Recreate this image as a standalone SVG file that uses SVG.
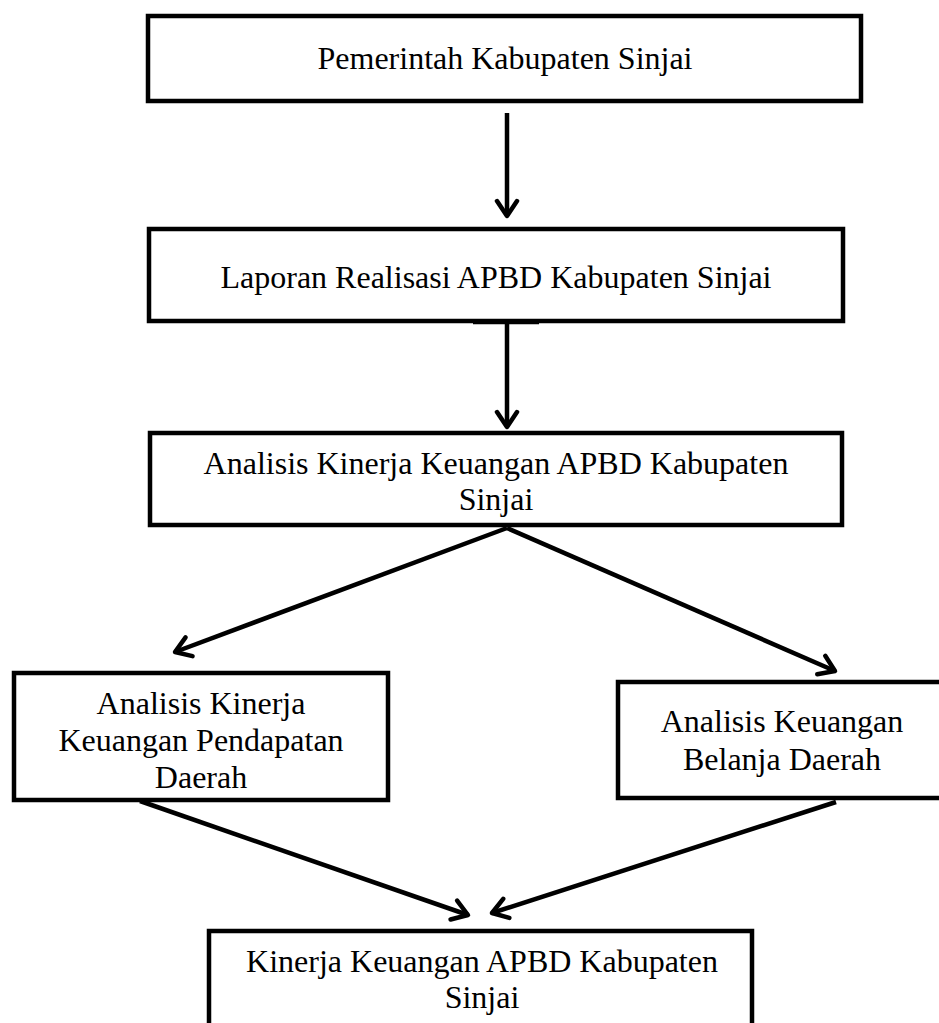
<svg xmlns="http://www.w3.org/2000/svg" width="939" height="1023" viewBox="0 0 939 1023">
<style>
.box{fill:#fff;stroke:#000;stroke-width:4.5}
.lbl{font-family:"Liberation Serif","Times New Roman",serif;font-size:32px;fill:#000;text-anchor:middle}
.con{stroke:#000;stroke-width:4.5;fill:none}
</style>
<defs>
<marker id="ah" markerUnits="userSpaceOnUse" viewBox="-20 -14 24 28" refX="0" refY="0" markerWidth="24" markerHeight="28" orient="auto">
<path d="M-15,-10 L0,0 L-15,10" fill="none" stroke="#000" stroke-width="4.5" stroke-linejoin="round" stroke-linecap="round"/>
</marker>
</defs>
<rect width="939" height="1023" fill="#fff"/>
<g id="connectors">
<line class="con" x1="507" y1="113" x2="507" y2="216" marker-end="url(#ah)"/>
<line class="con" x1="473" y1="322" x2="539" y2="322"/>
<line class="con" x1="507" y1="324" x2="507" y2="427" marker-end="url(#ah)"/>
<line class="con" x1="507" y1="528" x2="175" y2="652" marker-end="url(#ah)"/>
<line class="con" x1="507" y1="528" x2="835" y2="671" marker-end="url(#ah)"/>
<line class="con" x1="140" y1="801" x2="468" y2="915" marker-end="url(#ah)"/>
<line class="con" x1="836" y1="802" x2="492" y2="913" marker-end="url(#ah)"/>
</g>
<g id="node1">
<rect class="box" x="148" y="16" width="713" height="85"/>
<text class="lbl" x="505" y="69">Pemerintah Kabupaten Sinjai</text>
</g>
<g id="node2">
<rect class="box" x="149" y="229" width="694" height="92"/>
<text class="lbl" x="496" y="288">Laporan Realisasi APBD Kabupaten Sinjai</text>
</g>
<g id="node3">
<rect class="box" x="150" y="433" width="692" height="92"/>
<text class="lbl" x="496" y="474">Analisis Kinerja Keuangan APBD Kabupaten</text>
<text class="lbl" x="496" y="510">Sinjai</text>
</g>
<g id="node4">
<rect class="box" x="14" y="673" width="374" height="127"/>
<text class="lbl" x="201" y="714">Analisis Kinerja</text>
<text class="lbl" x="201" y="751">Keuangan Pendapatan</text>
<text class="lbl" x="201" y="788">Daerah</text>
</g>
<g id="node5">
<rect class="box" x="618" y="682" width="335" height="116"/>
<text class="lbl" x="782" y="732">Analisis Keuangan</text>
<text class="lbl" x="782" y="770">Belanja Daerah</text>
</g>
<g id="node6">
<rect class="box" x="209" y="931" width="543" height="110"/>
<text class="lbl" x="482" y="972">Kinerja Keuangan APBD Kabupaten</text>
<text class="lbl" x="482" y="1008">Sinjai</text>
</g>
</svg>
